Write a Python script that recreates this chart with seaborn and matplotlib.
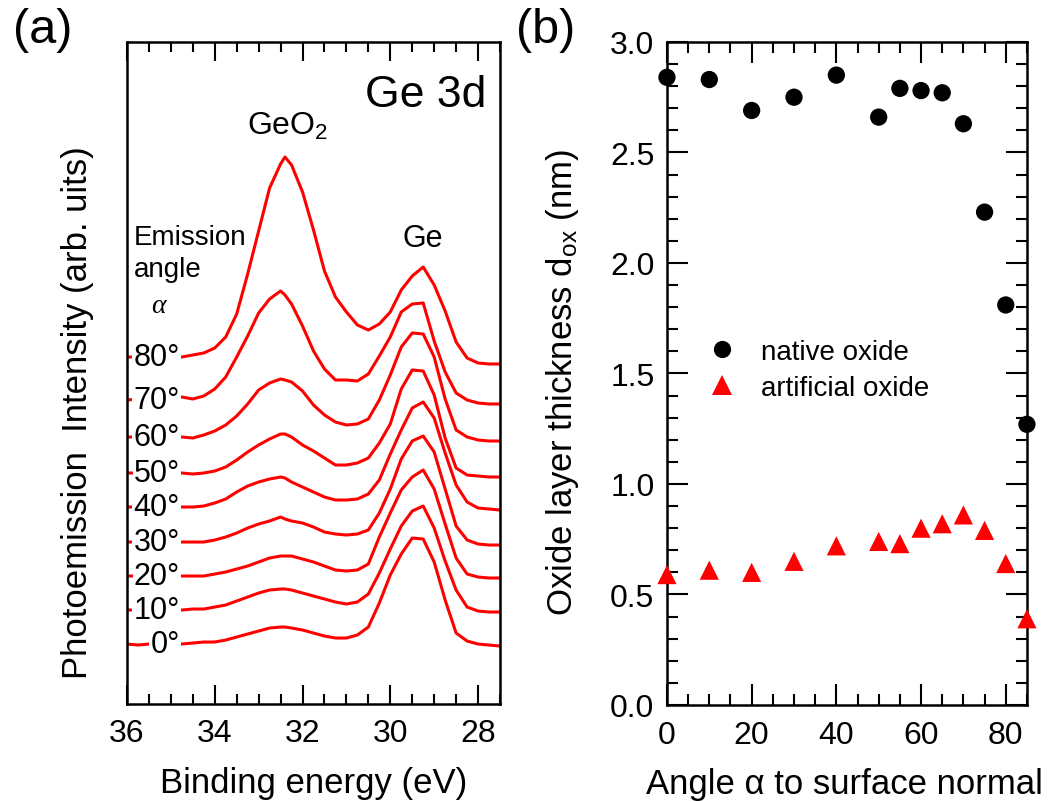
import numpy as np
import pandas as pd
import matplotlib
matplotlib.use("Agg")
import matplotlib.pyplot as plt
from matplotlib.ticker import MultipleLocator, FormatStrFormatter
from matplotlib.lines import Line2D
import seaborn as sns

# ---------------- data ----------------
# (a) Ge 3d photoemission spectra, binding energy grid (eV)
energy = [36.00, 35.75, 35.50, 35.25, 35.00, 34.75, 34.50, 34.25, 34.00, 33.75,
          33.50, 33.25, 33.00, 32.75, 32.50, 32.40, 32.25, 32.00, 31.75, 31.50,
          31.25, 31.00, 30.75, 30.50, 30.25, 30.00, 29.75, 29.50, 29.25, 29.00,
          28.75, 28.50, 28.25, 28.00, 27.75, 27.50]

angles_deg = [0, 10, 20, 30, 40, 50, 60, 70, 80]
angle_labels = ["0°", "10°", "20°", "30°", "40°", "50°", "60°", "70°", "80°"]

# intensity (arb. units) for each emission angle
spec_0 = [0, -1, 0, 0, 0, 0, 1, 2, 2, 4, 7, 10, 13, 16, 17, 17, 16, 14, 11, 8,
          6, 6, 9, 17, 41, 69, 90, 106, 105, 82, 44, 11, 3, 0, -1, -2]
spec_10 = [0, 0, 0, 0, 0, 0, 1, 1, 3, 5, 9, 13, 17, 20, 21, 21, 20, 17, 14, 11,
           8, 6, 8, 16, 37, 61, 84, 99, 104, 82, 49, 20, 3, -1, -2, -2]
spec_20 = [0, 0, 0, 0, 0, 0, 0, 0, 2, 4, 7, 10, 14, 18, 20, 20, 20, 17, 14, 10,
           6, 5, 6, 12, 39, 63, 86, 99, 106, 87, 52, 18, 2, -1, -2, -2]
spec_30 = [0, 0, 0, 0, 0, 0, 0, 0, 2, 5, 9, 14, 18, 21, 25, 23, 21, 19, 15, 10,
           8, 7, 8, 12, 29, 53, 83, 101, 106, 90, 53, 16, 2, -2, -3, -3]
spec_40 = [0, 0, 0, 0, 0, 0, 0, 1, 4, 8, 15, 21, 25, 28, 30, 29, 25, 20, 15, 10,
           7, 7, 8, 13, 27, 53, 77, 99, 105, 89, 54, 22, 5, -1, -2, -3]
spec_50 = [0, 0, 0, 0, 0, 0, -1, 0, 2, 6, 13, 21, 28, 34, 39, 39, 36, 28, 22, 15,
           8, 8, 10, 15, 30, 49, 84, 103, 102, 78, 35, 5, -2, -3, -4, -4]
spec_60 = [0, 0, 0, 0, 0, 0, -1, 2, 6, 12, 21, 33, 47, 54, 58, 57, 55, 46, 32, 22,
           15, 12, 13, 18, 37, 62, 90, 104, 103, 80, 38, 7, 0, -3, -4, -4]
spec_70 = [0, 1, 2, 2, 3, 3, 1, 4, 11, 23, 43, 64, 87, 101, 109, 105, 96, 74, 49, 31,
           20, 20, 19, 26, 44, 63, 88, 96, 97, 59, 28, 7, 0, -3, -4, -4]
spec_80 = [0, 0, 0, -1, -1, 0, 2, 4, 9, 20, 43, 83, 126, 169, 193, 200, 192, 165, 127, 86,
           60, 45, 32, 27, 33, 45, 67, 81, 90, 72, 46, 15, -1, -6, -7, -7]
spectra = [spec_0, spec_10, spec_20, spec_30, spec_40, spec_50, spec_60, spec_70, spec_80]

# vertical offsets used to stack the spectra
offsets = [60, 94, 128, 162, 197, 231, 267, 304, 347]

# (b) oxide layer thickness vs. angle to surface normal
angle_b = [0, 10, 20, 30, 40, 50, 55, 60, 65, 70, 75, 80, 85]
native_oxide = [2.84, 2.83, 2.69, 2.75, 2.85, 2.66, 2.79, 2.78, 2.77, 2.63, 2.23, 1.81, 1.27]
artificial_oxide = [0.59, 0.61, 0.60, 0.65, 0.72, 0.74, 0.73, 0.80, 0.82, 0.86, 0.79, 0.64, 0.39]

# ---------------- style ----------------
sns.set_style("ticks")
plt.rcParams["font.family"] = ["Liberation Sans", "DejaVu Sans"]
plt.rcParams["mathtext.fontset"] = "custom"
plt.rcParams["mathtext.rm"] = "Liberation Sans"
plt.rcParams["mathtext.it"] = "Liberation Sans:italic"
plt.rcParams["axes.linewidth"] = 1.8
plt.rcParams["axes.edgecolor"] = "black"
plt.rcParams["text.color"] = "black"
plt.rcParams["axes.labelcolor"] = "black"
plt.rcParams["xtick.color"] = "black"
plt.rcParams["ytick.color"] = "black"

RED = "#ff0000"
TICK_FS = 23
LABEL_FS = 25

fig = plt.figure(figsize=(10.60, 8.03), dpi=100)
ax_a = fig.add_axes([0.1198, 0.1220, 0.3519, 0.8245])
ax_b = fig.add_axes([0.6292, 0.1208, 0.3396, 0.8257])

# ---------------- panel (a) ----------------
rows = []
for ang, spec, off in zip(angles_deg, spectra, offsets):
    for e, v in zip(energy, spec):
        rows.append({"energy": e, "intensity": v + off, "angle": ang})
df_a = pd.DataFrame(rows)

sns.lineplot(data=df_a, x="energy", y="intensity", units="angle", estimator=None,
             color=RED, lw=2.2, sort=False, ax=ax_a, legend=False)

ax_a.set_xlim(36, 27.5)
ax_a.set_ylim(0, 662)
ax_a.xaxis.set_major_locator(MultipleLocator(2))
ax_a.xaxis.set_minor_locator(MultipleLocator(0.5))
ax_a.tick_params(axis="x", which="both", direction="in", top=True, bottom=True,
                 labelsize=TICK_FS, width=1.5, pad=10, colors="black")
ax_a.tick_params(axis="x", which="major", length=14)
ax_a.tick_params(axis="x", which="minor", length=7)
ax_a.tick_params(axis="y", which="both", left=False, right=False, labelleft=False)
ax_a.set_xlabel("Binding energy (eV)", fontsize=LABEL_FS, va="center")
ax_a.xaxis.set_label_coords(0.5, -0.118)
ax_a.set_ylabel("Photoemission  Intensity (arb. uits)", fontsize=LABEL_FS, va="center")
ax_a.yaxis.set_label_coords(-0.134, 0.441)

for lab, off in zip(angle_labels, offsets):
    ax_a.text(34.79, off, lab, fontsize=22, ha="right", va="center",
              bbox=dict(facecolor="white", edgecolor="none", pad=0.8))

ax_a.text(27.80, 598, "Ge 3d", fontsize=32, ha="right", va="baseline")
ax_a.text(33.27, 570, r"GeO$_2$", fontsize=23, ha="left", va="baseline")
ax_a.text(29.26, 458, "Ge", fontsize=22, ha="center", va="baseline")
ax_a.text(35.84, 460, "Emission", fontsize=20, ha="left", va="baseline")
ax_a.text(35.84, 428, "angle", fontsize=20, ha="left", va="baseline")
ax_a.text(35.29, 392, "α", fontsize=20, ha="center", va="baseline",
          family=["Liberation Serif", "DejaVu Serif"], style="italic")

# ---------------- panel (b) ----------------
df_b = pd.DataFrame({"angle": angle_b, "native": native_oxide,
                     "artificial": artificial_oxide})
sns.scatterplot(data=df_b, x="angle", y="native", marker="o", s=155, color="black",
                edgecolor="none", linewidth=0, ax=ax_b, legend=False, clip_on=False,
                zorder=3)
sns.scatterplot(data=df_b, x="angle", y="artificial", marker="^", s=190, color=RED,
                edgecolor="none", linewidth=0, ax=ax_b, legend=False, clip_on=False,
                zorder=3)

ax_b.set_xlim(0, 85)
ax_b.set_ylim(0, 3.0)
ax_b.set_xticks([0, 20, 40, 60, 80])
ax_b.xaxis.set_minor_locator(MultipleLocator(5))
ax_b.yaxis.set_major_locator(MultipleLocator(0.5))
ax_b.yaxis.set_minor_locator(MultipleLocator(0.1))
ax_b.yaxis.set_major_formatter(FormatStrFormatter("%.1f"))
ax_b.tick_params(axis="both", which="both", direction="in", top=True, bottom=True,
                 left=True, right=True, labelsize=TICK_FS, width=1.5, colors="black")
ax_b.tick_params(axis="both", which="major", length=15)
ax_b.tick_params(axis="both", which="minor", length=8)
ax_b.tick_params(axis="x", pad=11)
ax_b.tick_params(axis="y", pad=9)
ax_b.set_xlabel("Angle α to surface normal", fontsize=LABEL_FS, va="center")
ax_b.xaxis.set_label_coords(0.494, -0.119)
ax_b.set_ylabel(r"Oxide layer thickness d$_{\mathrm{ox}}$ (nm)", fontsize=LABEL_FS,
                va="center")
ax_b.yaxis.set_label_coords(-0.289, 0.488)

handles = [Line2D([], [], marker="o", ls="none", color="black", markersize=12.4,
                  markeredgewidth=0),
           Line2D([], [], marker="^", ls="none", color=RED, markersize=13.8,
                  markeredgewidth=0)]
ax_b.legend(handles, ["native oxide", "artificial oxide"], loc="upper left",
            bbox_to_anchor=(0.114, 0.552), frameon=False, fontsize=20,
            handlelength=1.0, handletextpad=0.9, labelspacing=0.35,
            borderpad=0, borderaxespad=0)

for ax in (ax_a, ax_b):
    for sp in ax.spines.values():
        sp.set_visible(True)
        sp.set_linewidth(1.8)
        sp.set_color("black")

fig.text(13 / 1060, 1 - 8 / 803, "(a)", fontsize=35, ha="left", va="top")
fig.text(516 / 1060, 1 - 8 / 803, "(b)", fontsize=35, ha="left", va="top")

fig.savefig("out.png", dpi=100)
